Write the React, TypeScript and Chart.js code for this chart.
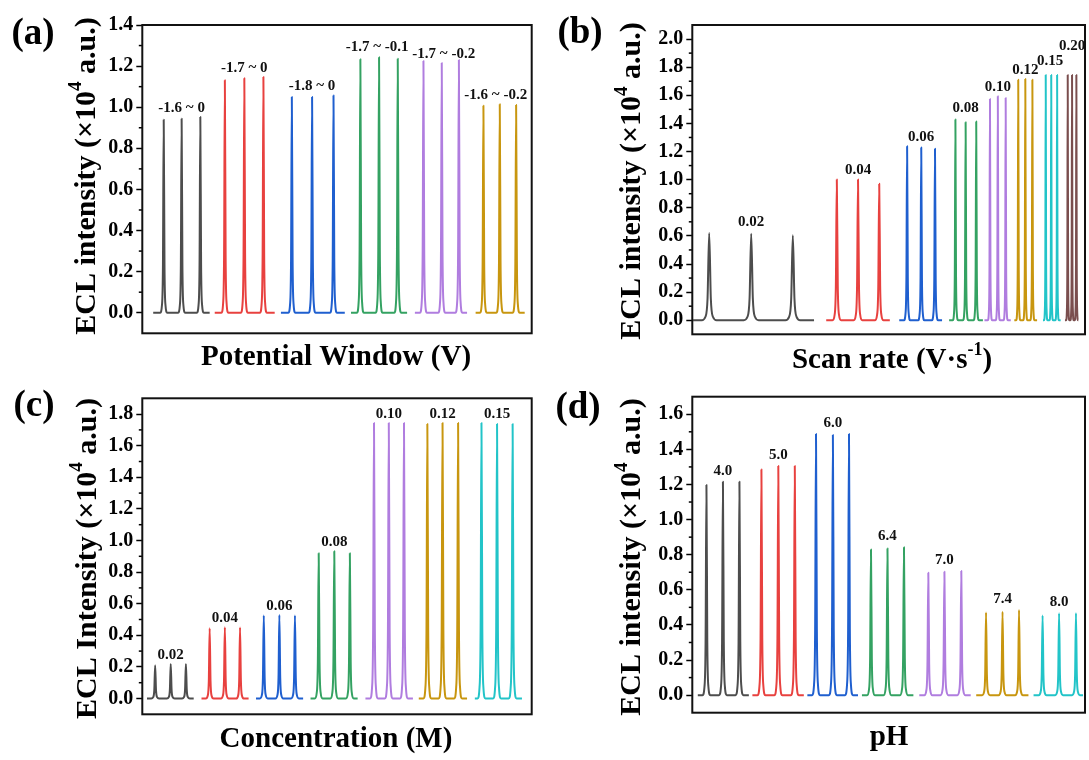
import React, { useEffect, useRef } from 'react';
import { Chart, registerables } from 'chart.js';
Chart.register(...registerables);

const FONT = '"Liberation Serif", "Times New Roman", serif';
const COLORS = ['#4d4d4d', '#e8413f', '#1f5fcf', '#34a262', '#b07ddf', '#c8960f', '#22c4c8', '#7a4e4e'];

// ---------- Panel (a): potential window ----------
const aNames = ['-1.6 ~ 0', '-1.7 ~ 0', '-1.8 ~ 0', '-1.7 ~ -0.1', '-1.7 ~ -0.2', '-1.6 ~ -0.2'];
const aPeakX = [[5.5, 10.1, 14.9], [21.2, 26.2, 31.1], [38.4, 43.6, 49.1], [56.0, 60.8, 65.6], [72.2, 76.9, 81.3], [87.6, 91.8, 96.0]];
const aPeakY = [[0.939, 0.944, 0.952], [1.131, 1.141, 1.147], [1.050, 1.050, 1.057], [1.233, 1.243, 1.236], [1.225, 1.215, 1.230], [1.007, 1.015, 1.011]];
const aSpans = [[2.8, 17.3], [18.6, 34.0], [35.6, 52.0], [53.6, 68.0], [70.0, 83.4], [85.6, 98.2]];
const aTicks = [0, 0.2, 0.4, 0.6, 0.8, 1.0, 1.2, 1.4];

// ---------- Panel (b): scan rate ----------
const bNames = ['0.02', '0.04', '0.06', '0.08', '0.10', '0.12', '0.15', '0.20'];
const bPeakX = [[4.3, 15.0, 25.6], [36.8, 42.2, 47.6], [54.7, 58.3, 61.8], [67.0, 69.6, 72.3], [75.8, 77.8, 79.8], [83.0, 84.8, 86.6], [90.0, 91.4, 92.9], [95.6, 96.7, 97.8]];
const bPeakY = [[0.620, 0.615, 0.604], [1.001, 1.001, 0.970], [1.238, 1.228, 1.219], [1.427, 1.408, 1.413], [1.574, 1.593, 1.581], [1.711, 1.716, 1.711], [1.744, 1.744, 1.744], [1.744, 1.744, 1.744]];
const bSpans = [[0.2, 31.0], [34.1, 50.3], [52.7, 63.6], [65.4, 74.0], [74.4, 81.1], [82.0, 87.8], [89.3, 93.8], [94.9, 98.3]];
const bTicks = [0, 0.2, 0.4, 0.6, 0.8, 1.0, 1.2, 1.4, 1.6, 1.8, 2.0];

// ---------- Panel (c): concentration ----------
const cNames = ['0.02', '0.04', '0.06', '0.08', '0.10', '0.12', '0.15'];
const cPeakX = [[3.3, 7.3, 11.2], [17.3, 21.2, 25.1], [31.2, 35.2, 39.2], [45.3, 49.3, 53.3], [59.5, 63.3, 67.2], [73.2, 77.1, 81.1], [87.1, 91.1, 95.1]];
const cPeakY = [[0.211, 0.219, 0.219], [0.445, 0.451, 0.449], [0.525, 0.529, 0.525], [0.919, 0.932, 0.919], [1.743, 1.743, 1.743], [1.737, 1.743, 1.743], [1.743, 1.737, 1.737]];
const cSpans = [[1.2, 13.2], [15.2, 27.3], [29.2, 41.3], [43.2, 55.3], [57.3, 69.5], [71.0, 83.4], [85.4, 97.5]];
const cTicks = [0, 0.2, 0.4, 0.6, 0.8, 1.0, 1.2, 1.4, 1.6, 1.8];

// ---------- Panel (d): pH ----------
const dNames = ['4.0', '5.0', '6.0', '6.4', '7.0', '7.4', '8.0'];
const dPeakX = [[3.6, 7.8, 12.0], [17.6, 21.9, 26.1], [31.5, 35.8, 39.9], [45.5, 49.7, 53.9], [60.1, 64.2, 68.5], [74.8, 79.0, 83.2], [89.2, 93.4, 97.7]];
const dPeakY = [[1.197, 1.216, 1.216], [1.286, 1.305, 1.305], [1.488, 1.482, 1.488], [0.830, 0.836, 0.842], [0.697, 0.703, 0.707], [0.471, 0.475, 0.485], [0.454, 0.466, 0.467]];
const dSpans = [[1.4, 14.4], [15.3, 28.4], [29.3, 42.2], [43.2, 56.3], [57.8, 70.9], [72.3, 85.6], [86.9, 99.5]];
const dTicks = [0, 0.2, 0.4, 0.6, 0.8, 1.0, 1.2, 1.4, 1.6];

type Part = { t: string; sup?: boolean };

type Panel = {
  letter: string;
  yMin: number;
  yMax: number;
  ticks: number[];
  names: string[];
  peakX: number[][];
  peakY: number[][];
  spans: number[][];
  widths: number[];
  yTitle: Part[];
  xTitle: Part[];
  box: { left: number; top: number; w: number; h: number };
  area: { l: number; t: number; r: number; b: number };
  yTitlePos: [number, number];
  xTitlePos: [number, number];
  letterPos: [number, number];
  labelGap: number;
  labelLift: number[];
  labelDx: number[];
};

const yTitleLower: Part[] = [{ t: 'ECL intensity (×10' }, { t: '4', sup: true }, { t: ' a.u.)' }];
const yTitleUpper: Part[] = [{ t: 'ECL Intensity (×10' }, { t: '4', sup: true }, { t: ' a.u.)' }];

const panels: Panel[] = [
  {
    letter: '(a)', yMin: -0.1, yMax: 1.4, ticks: aTicks, names: aNames, peakX: aPeakX, peakY: aPeakY, spans: aSpans,
    widths: [0.9, 0.9, 0.9, 0.9, 0.9, 0.9],
    yTitle: yTitleLower, xTitle: [{ t: 'Potential Window (V)' }],
    box: { left: 0, top: 0, w: 545, h: 380 },
    area: { l: 142.3, t: 25, r: 531.7, b: 333.3 },
    yTitlePos: [87, 176], xTitlePos: [336, 358], letterPos: [33, 34],
    labelGap: 5, labelLift: [0, 0, 0, 1, -3, 0], labelDx: [0, 0, 0, -2, 2, -4],
  },
  {
    letter: '(b)', yMin: -0.1, yMax: 2.1, ticks: bTicks, names: bNames, peakX: bPeakX, peakY: bPeakY, spans: bSpans,
    widths: [1.9, 1.1, 0.8, 0.68, 0.55, 0.55, 0.45, 0.42],
    yTitle: yTitleLower, xTitle: [{ t: 'Scan rate (V·s' }, { t: '-1', sup: true }, { t: ')' }],
    box: { left: 545, top: 0, w: 544, h: 380 },
    area: { l: 147.3, t: 25, r: 540, b: 334.3 },
    yTitlePos: [87.5, 181], xTitlePos: [347, 361], letterPos: [35, 33],
    labelGap: 6, labelLift: [1, 0, -1, 2, -1, -1, 4, 19], labelDx: [0, 0, 0, 0, 0, 0, -1, 0],
  },
  {
    letter: '(c)', yMin: -0.1, yMax: 1.9, ticks: cTicks, names: cNames, peakX: cPeakX, peakY: cPeakY, spans: cSpans,
    widths: [1.0, 1.0, 1.0, 1.0, 1.0, 1.0, 1.0],
    yTitle: yTitleUpper, xTitle: [{ t: 'Concentration (M)' }],
    box: { left: 0, top: 380, w: 545, h: 380 },
    area: { l: 142.3, t: 18.3, r: 531.7, b: 334.3 },
    yTitlePos: [88, 178.5], xTitlePos: [336, 360], letterPos: [34, 26],
    labelGap: 5, labelLift: [0, 0, 0, 0, 0, 0, 0], labelDx: [0, 0, 0, 0, 0, 0, 0],
  },
  {
    letter: '(d)', yMin: -0.1, yMax: 1.7, ticks: dTicks, names: dNames, peakX: dPeakX, peakY: dPeakY, spans: dSpans,
    widths: [1.0, 1.0, 1.0, 1.0, 1.0, 1.0, 1.0],
    yTitle: yTitleLower, xTitle: [{ t: 'pH' }],
    box: { left: 545, top: 380, w: 544, h: 380 },
    area: { l: 147.3, t: 16.7, r: 540, b: 332.7 },
    yTitlePos: [87.5, 177], xTitlePos: [344, 358], letterPos: [33, 28],
    labelGap: 7, labelLift: [0, 0, 0, 0, 0, 0, 0], labelDx: [0, 0, 0, 0, 0, 0, 0],
  },
];

function buildTrace(span: number[], xs: number[], ys: number[], w: number) {
  const pts: { x: number; y: number }[] = [{ x: span[0], y: 0 }];
  const offs = [1, 0.5, 0.22];
  const fr = [0, 0.04, 0.25];
  xs.forEach((p, k) => {
    const h = ys[k];
    for (let j = 0; j < 3; j++) pts.push({ x: p - offs[j] * w, y: fr[j] * h });
    pts.push({ x: p, y: h });
    for (let j = 2; j >= 0; j--) pts.push({ x: p + offs[j] * w, y: fr[j] * h });
  });
  pts.push({ x: span[1], y: 0 });
  return pts;
}

function font(size: number) {
  return `bold ${size}px ${FONT}`;
}

function drawParts(ctx: CanvasRenderingContext2D, parts: Part[], cx: number, cy: number, size: number, rot: number) {
  ctx.save();
  ctx.translate(cx, cy);
  ctx.rotate(rot);
  ctx.fillStyle = '#000';
  ctx.textBaseline = 'middle';
  ctx.textAlign = 'left';
  const supSize = Math.round(size * 0.62);
  let total = 0;
  const widths = parts.map((p) => {
    ctx.font = font(p.sup ? supSize : size);
    const w = ctx.measureText(p.t).width;
    total += w;
    return w;
  });
  let x = -total / 2;
  parts.forEach((p, i) => {
    ctx.font = font(p.sup ? supSize : size);
    ctx.fillText(p.t, x, p.sup ? -size * 0.36 : 0);
    x += widths[i];
  });
  ctx.restore();
}

function makePlugin(p: Panel) {
  return {
    id: 'decor',
    afterDraw(chart: any) {
      const ctx: CanvasRenderingContext2D = chart.ctx;
      const { left, right, top, bottom } = chart.chartArea;
      const ys = chart.scales.y;
      const xs = chart.scales.x;
      ctx.save();
      // minor ticks
      ctx.strokeStyle = '#000';
      ctx.lineWidth = 1.5;
      for (let i = 0; i < p.ticks.length - 1; i++) {
        const v = (p.ticks[i] + p.ticks[i + 1]) / 2;
        const py = ys.getPixelForValue(v);
        ctx.beginPath();
        ctx.moveTo(left - 3.5, py);
        ctx.lineTo(left, py);
        ctx.stroke();
      }
      // frame
      ctx.lineWidth = 2;
      ctx.strokeStyle = '#111';
      ctx.strokeRect(left, top, right - left, bottom - top);
      // peak group labels
      ctx.fillStyle = '#111';
      ctx.font = font(15);
      ctx.textAlign = 'center';
      ctx.textBaseline = 'alphabetic';
      p.names.forEach((name, i) => {
        const mx = p.peakX[i][1];
        const my = Math.max(...p.peakY[i]);
        const px = xs.getPixelForValue(mx) + p.labelDx[i];
        const py = ys.getPixelForValue(my) - p.labelGap - p.labelLift[i];
        ctx.fillText(name, px, py);
      });
      ctx.restore();
      // titles
      drawParts(ctx, p.yTitle, p.yTitlePos[0], p.yTitlePos[1], 30, -Math.PI / 2);
      drawParts(ctx, p.xTitle, p.xTitlePos[0], p.xTitlePos[1], 29, 0);
      drawParts(ctx, [{ t: p.letter }], p.letterPos[0], p.letterPos[1], 37, 0);
    },
  };
}

function PanelChart({ p }: { p: Panel }) {
  const ref = useRef<HTMLCanvasElement | null>(null);
  useEffect(() => {
    if (!ref.current) return;
    const datasets = p.names.map((name, i) => ({
      label: name,
      data: buildTrace(p.spans[i], p.peakX[i], p.peakY[i], p.widths[i]),
      borderColor: COLORS[i],
      borderWidth: 2,
      pointRadius: 0,
      fill: false,
      cubicInterpolationMode: 'monotone' as const,
      borderJoinStyle: 'round' as const,
    }));
    const chart = new Chart(ref.current, {
      type: 'line',
      data: { datasets },
      options: {
        animation: false,
        responsive: false,
        devicePixelRatio: 1,
        layout: {
          padding: { left: 0, top: p.area.t, right: p.box.w - p.area.r, bottom: p.box.h - p.area.b },
        },
        plugins: { legend: { display: false }, tooltip: { enabled: false } },
        scales: {
          x: { type: 'linear', min: 0, max: 100, display: false },
          y: {
            type: 'linear',
            min: p.yMin,
            max: p.yMax,
            afterFit: (s: any) => { s.width = p.area.l; },
            afterBuildTicks: (s: any) => { s.ticks = p.ticks.map((v) => ({ value: v })); },
            border: { display: false },
            grid: { display: true, drawOnChartArea: false, drawTicks: true, tickLength: 6, tickWidth: 1.5, tickColor: '#000' },
            ticks: {
              color: '#000',
              padding: 3,
              font: { family: FONT, size: 20, weight: 'bold' },
              callback: (v: any) => Number(v).toFixed(1),
            },
          },
        },
      },
      plugins: [makePlugin(p)],
    } as any);
    return () => chart.destroy();
  }, [p]);
  return (
    <canvas
      ref={ref}
      width={p.box.w}
      height={p.box.h}
      style={{ position: 'absolute', left: p.box.left, top: p.box.top, width: p.box.w, height: p.box.h }}
    />
  );
}

export default function App() {
  return (
    <div style={{ position: 'absolute', left: 0, top: 0, width: 1089, height: 760, background: '#fff', overflow: 'hidden' }}>
      {panels.map((p) => (
        <PanelChart key={p.letter} p={p} />
      ))}
    </div>
  );
}
